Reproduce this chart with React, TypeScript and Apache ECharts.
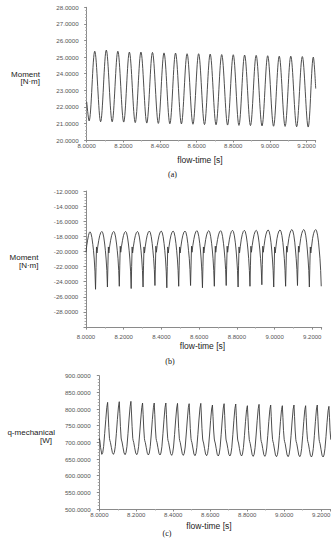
import React, { useEffect, useRef } from "react";
import * as echarts from "echarts";

// ---------- data ----------
const PERIOD = 0.063;
const X_MIN = 8.0;
const X_MAX = 9.25;

// (a) Moment, peaks and troughs
const timeA = [8.000, 8.013, 8.044, 8.076, 8.107, 8.139, 8.170, 8.202, 8.233, 8.265, 8.296, 8.328, 8.359, 8.391, 8.422, 8.454, 8.485, 8.517, 8.548, 8.580, 8.611, 8.643, 8.674, 8.706, 8.737, 8.769, 8.800, 8.831, 8.862, 8.894, 8.925, 8.957, 8.988, 9.020, 9.051, 9.083, 9.114, 9.146, 9.177, 9.209, 9.237, 9.250];
const momentA = [22.3, 21.15, 25.35, 21.1, 25.42, 21.1, 25.35, 21.08, 25.3, 21.05, 25.3, 21.02, 25.28, 21.0, 25.25, 20.98, 25.24, 20.97, 25.2, 20.95, 25.2, 20.93, 25.18, 20.92, 25.15, 20.9, 25.14, 20.88, 25.12, 20.87, 25.1, 20.85, 25.08, 20.83, 25.05, 20.82, 25.05, 20.8, 25.03, 20.78, 25.0, 23.1];

// (b) Moment, one row per cycle (values at phaseB after each peak)
const startTimeB = [8.000, 8.004, 8.0085, 8.013, 8.0175];
const startMomentB = [-20.1, -19.2, -18.5, -17.9, -17.5];
const peakTimeB = [8.021, 8.084, 8.147, 8.210, 8.273, 8.336, 8.399, 8.462, 8.525, 8.588, 8.651, 8.714, 8.777, 8.840, 8.903, 8.966, 9.029, 9.092, 9.155, 9.218];
const phaseB = [0, 0.08, 0.16, 0.24, 0.30, 0.36, 0.42, 0.47, 0.51, 0.55, 0.59, 0.66, 0.74, 0.82, 0.91];
const cyclesB = [
  [-17.4, -17.58, -18.14, -19.06, -19.9, -21.0, -22.6, -25.0, -22.1, -19.4, -20.2, -19.3, -18.52, -17.91, -17.49],
  [-17.35, -17.53, -18.09, -19.01, -19.9, -21.0, -22.5, -24.7, -21.9, -19.4, -20.2, -19.3, -18.52, -17.91, -17.49],
  [-17.35, -17.53, -18.09, -19.01, -19.9, -20.9, -22.5, -24.6, -21.9, -19.3, -20.1, -19.3, -18.52, -17.91, -17.49],
  [-17.35, -17.53, -18.09, -19.01, -19.9, -21.0, -22.6, -24.9, -22.0, -19.4, -20.2, -19.3, -18.52, -17.91, -17.49],
  [-17.35, -17.53, -18.09, -19.01, -19.9, -21.0, -22.5, -24.7, -21.9, -19.4, -20.2, -19.3, -18.47, -17.86, -17.44],
  [-17.3, -17.48, -18.04, -18.96, -19.9, -20.9, -22.4, -24.5, -21.8, -19.3, -20.1, -19.2, -18.47, -17.86, -17.44],
  [-17.3, -17.48, -18.04, -18.96, -19.9, -21.0, -22.6, -24.8, -22.0, -19.4, -20.2, -19.3, -18.47, -17.86, -17.44],
  [-17.3, -17.48, -18.04, -18.96, -19.9, -21.0, -22.5, -24.6, -21.9, -19.4, -20.2, -19.3, -18.47, -17.86, -17.44],
  [-17.3, -17.48, -18.04, -18.96, -19.9, -20.9, -22.4, -24.5, -21.8, -19.3, -20.1, -19.2, -18.42, -17.81, -17.39],
  [-17.25, -17.43, -17.99, -18.91, -19.8, -21.0, -22.6, -24.8, -22.0, -19.4, -20.2, -19.3, -18.42, -17.81, -17.39],
  [-17.25, -17.43, -17.99, -18.91, -19.8, -20.9, -22.5, -24.6, -21.9, -19.3, -20.1, -19.2, -18.42, -17.81, -17.39],
  [-17.25, -17.43, -17.99, -18.91, -19.8, -20.9, -22.4, -24.5, -21.8, -19.3, -20.1, -19.2, -18.37, -17.76, -17.34],
  [-17.2, -17.38, -17.94, -18.86, -19.8, -21.0, -22.5, -24.7, -21.9, -19.4, -20.2, -19.3, -18.37, -17.76, -17.34],
  [-17.2, -17.38, -17.94, -18.86, -19.8, -20.9, -22.5, -24.6, -21.9, -19.3, -20.1, -19.2, -18.37, -17.76, -17.34],
  [-17.2, -17.38, -17.94, -18.86, -19.8, -20.9, -22.3, -24.4, -21.7, -19.3, -20.1, -19.2, -18.32, -17.71, -17.29],
  [-17.15, -17.33, -17.89, -18.81, -19.8, -21.0, -22.5, -24.7, -21.9, -19.4, -20.2, -19.3, -18.32, -17.71, -17.29],
  [-17.15, -17.33, -17.89, -18.81, -19.8, -20.9, -22.5, -24.6, -21.9, -19.3, -20.1, -19.2, -18.27, -17.66, -17.24],
  [-17.1, -17.28, -17.84, -18.76, -19.8, -20.9, -22.4, -24.5, -21.8, -19.3, -20.1, -19.2, -18.27, -17.66, -17.24],
  [-17.1, -17.28, -17.84, -18.76, -19.8, -21.0, -22.5, -24.7, -21.9, -19.4, -20.2, -19.3, -18.27, -17.66, -17.24],
  [-17.1, -17.28, -17.84, -18.76, -19.8, -20.9, -22.5, -24.6],
];

// (c) q-mechanical, one row per cycle (values at phaseC after each peak)
const startTimeC = [8.000, 8.003, 8.007, 8.0135, 8.0185, 8.0235, 8.029, 8.035, 8.0405];
const startPowerC = [712, 705, 684, 664, 669, 688, 726, 768, 805];
const peakTimeC = [8.045, 8.108, 8.171, 8.234, 8.297, 8.360, 8.423, 8.486, 8.549, 8.612, 8.675, 8.738, 8.801, 8.864, 8.927, 8.990, 9.053, 9.116, 9.179, 9.242];
const phaseC = [0, 0.05, 0.10, 0.16, 0.19, 0.21, 0.24, 0.32, 0.41, 0.50, 0.58, 0.66, 0.75, 0.84, 0.93];
const cyclesC = [
  [820, 785, 745, 712, 706, 707, 700, 685, 669, 664, 670, 688, 726, 769, 806],
  [822, 787, 747, 713, 707, 708, 701, 685, 668, 663, 669, 688, 727, 770, 807],
  [823, 788, 748, 712, 706, 707, 700, 684, 668, 663, 669, 687, 725, 767, 804],
  [818, 783, 743, 711, 705, 706, 699, 684, 667, 662, 668, 687, 725, 768, 804],
  [818, 783, 743, 712, 706, 707, 700, 684, 667, 662, 668, 687, 726, 768, 805],
  [818, 783, 743, 711, 705, 706, 699, 683, 666, 661, 667, 686, 724, 767, 803],
  [817, 782, 742, 711, 705, 706, 699, 683, 666, 661, 667, 686, 725, 767, 804],
  [816, 781, 741, 711, 705, 706, 699, 683, 665, 660, 666, 685, 724, 767, 803],
  [817, 782, 742, 710, 704, 705, 698, 682, 665, 660, 666, 685, 722, 765, 800],
  [812, 777, 737, 710, 704, 705, 698, 682, 664, 659, 665, 685, 724, 767, 803],
  [816, 781, 741, 710, 704, 705, 698, 682, 664, 659, 665, 684, 723, 766, 802],
  [815, 780, 740, 710, 704, 705, 698, 681, 664, 659, 665, 684, 721, 763, 798],
  [810, 775, 736, 709, 703, 704, 697, 681, 663, 658, 664, 684, 722, 765, 801],
  [814, 779, 739, 709, 703, 704, 697, 681, 663, 658, 664, 683, 721, 763, 799],
  [812, 777, 737, 709, 703, 704, 697, 680, 662, 657, 663, 683, 720, 763, 798],
  [810, 775, 736, 709, 703, 704, 697, 680, 662, 657, 663, 683, 721, 764, 800],
  [812, 777, 737, 708, 702, 703, 696, 680, 662, 657, 663, 682, 720, 762, 798],
  [810, 775, 736, 708, 702, 703, 696, 679, 661, 656, 662, 682, 720, 763, 800],
  [812, 777, 737, 708, 702, 703, 696, 679, 661, 656, 662, 681, 718, 760, 795],
  [808, 774, 735, 708],
];

const X_TICK_INTERVAL = 0.2;

// ---------- helpers ----------
function pairs(times: number[], vals: number[]) {
  return times.map((t, i) => [t, vals[i]]);
}
function cyclePoints(peaks: number[], phases: number[], rows: number[][]) {
  const out: number[][] = [];
  rows.forEach((row, k) =>
    row.forEach((v, i) => out.push([peaks[k] + phases[i] * PERIOD, v]))
  );
  return out;
}

const FONT = "'Liberation Sans', Arial, sans-serif";
const SERIF = "'Liberation Serif', 'Times New Roman', serif";

export default function App() {
  const ref = useRef<HTMLDivElement>(null);

  useEffect(() => {
    if (!ref.current) return;
    const chart = echarts.init(ref.current, undefined, { renderer: "svg" });

    const grids = [
      { left: 86.7, top: 7.3, width: 229, height: 132.7 },
      { left: 86, top: 191, width: 235.7, height: 136.1 },
      { left: 99.3, top: 375.7, width: 231.1, height: 133.3 },
    ];

    const xAxisBase = (gridIndex: number, margin: number) => ({
      type: "value",
      gridIndex,
      min: X_MIN,
      max: X_MAX,
      interval: X_TICK_INTERVAL,
      axisLine: { show: true, onZero: false, lineStyle: { color: "#8a8a8a", width: 1 } },
      axisTick: { show: true, length: 2.5, lineStyle: { color: "#8a8a8a" } },
      minorTick: { show: true, splitNumber: 2, length: 1.5, lineStyle: { color: "#aaa" } },
      splitLine: { show: false },
      axisLabel: {
        fontSize: 6,
        fontFamily: FONT,
        color: "#555",
        margin,
        showMaxLabel: false,
        formatter: (v: number) => v.toFixed(4),
      },
    });

    const yAxisBase = (
      gridIndex: number,
      min: number,
      max: number,
      interval: number,
      margin: number,
      showMin: boolean
    ) => ({
      type: "value",
      gridIndex,
      min,
      max,
      interval,
      axisLine: { show: true, onZero: false, lineStyle: { color: "#8a8a8a", width: 1 } },
      axisTick: { show: true, length: 2.5, lineStyle: { color: "#8a8a8a" } },
      minorTick: { show: true, splitNumber: 5, length: 1.5, lineStyle: { color: "#aaa" } },
      splitLine: { show: false },
      axisLabel: {
        fontSize: 6.2,
        fontFamily: FONT,
        color: "#555",
        margin,
        showMinLabel: showMin,
        formatter: (v: number) => v.toFixed(4),
      },
    });

    const lineStyle = { color: "#3a3a3a", width: 0.9 };

    const text = (
      t: string,
      x: number,
      y: number,
      size: number,
      align: string,
      family = FONT,
      color = "#222"
    ) => ({
      type: "text",
      x,
      y,
      style: {
        text: t,
        font: `${size}px ${family}`,
        fill: color,
        textAlign: align,
        textVerticalAlign: "middle",
        align,
        verticalAlign: "middle",
      },
    });

    chart.setOption({
      animation: false,
      backgroundColor: "#ffffff",
      grid: grids,
      xAxis: [xAxisBase(0, 3), xAxisBase(1, 7), xAxisBase(2, 3)],
      yAxis: [
        yAxisBase(0, 20, 28, 1, 8, true),
        yAxisBase(1, -30, -12, 2, 7.7, false),
        yAxisBase(2, 500, 900, 50, 8.6, true),
      ],
      series: [
        {
          type: "line",
          xAxisIndex: 0,
          yAxisIndex: 0,
          data: pairs(timeA, momentA),
          smooth: 0.35,
          showSymbol: false,
          symbol: "none",
          lineStyle,
        },
        {
          type: "line",
          xAxisIndex: 1,
          yAxisIndex: 1,
          data: pairs(startTimeB, startMomentB).concat(
            cyclePoints(peakTimeB, phaseB, cyclesB)
          ),
          smooth: false,
          showSymbol: false,
          symbol: "none",
          lineStyle,
        },
        {
          type: "line",
          xAxisIndex: 2,
          yAxisIndex: 2,
          data: pairs(startTimeC, startPowerC).concat(
            cyclePoints(peakTimeC, phaseC, cyclesC)
          ),
          smooth: false,
          showSymbol: false,
          symbol: "none",
          lineStyle,
        },
      ],
      graphic: [
        text("Moment", 40, 74, 8, "right"),
        text("[N·m]", 40, 81.7, 8, "right"),
        text("flow-time [s]", 200, 160, 8.5, "center"),
        text("(a)", 172.5, 174, 8, "center", SERIF, "#111"),

        text("Moment", 38.5, 257.3, 8, "right"),
        text("[N·m]", 38.5, 265.7, 8, "right"),
        text("flow-time [s]", 202.5, 345.7, 8.5, "center"),
        text("(b)", 170, 361, 8, "center", SERIF, "#111"),

        text("q-mechanical", 55, 432.3, 8, "right"),
        text("[W]", 52, 440, 8, "right"),
        text("flow-time [s]", 209, 525.7, 8.5, "center"),
        text("(c)", 167, 533, 8, "center", SERIF, "#111"),
      ],
    });

    return () => chart.dispose();
  }, []);

  return (
    <div
      ref={ref}
      style={{ position: "absolute", left: 0, top: 0, width: 336, height: 550, background: "#fff" }}
    />
  );
}
